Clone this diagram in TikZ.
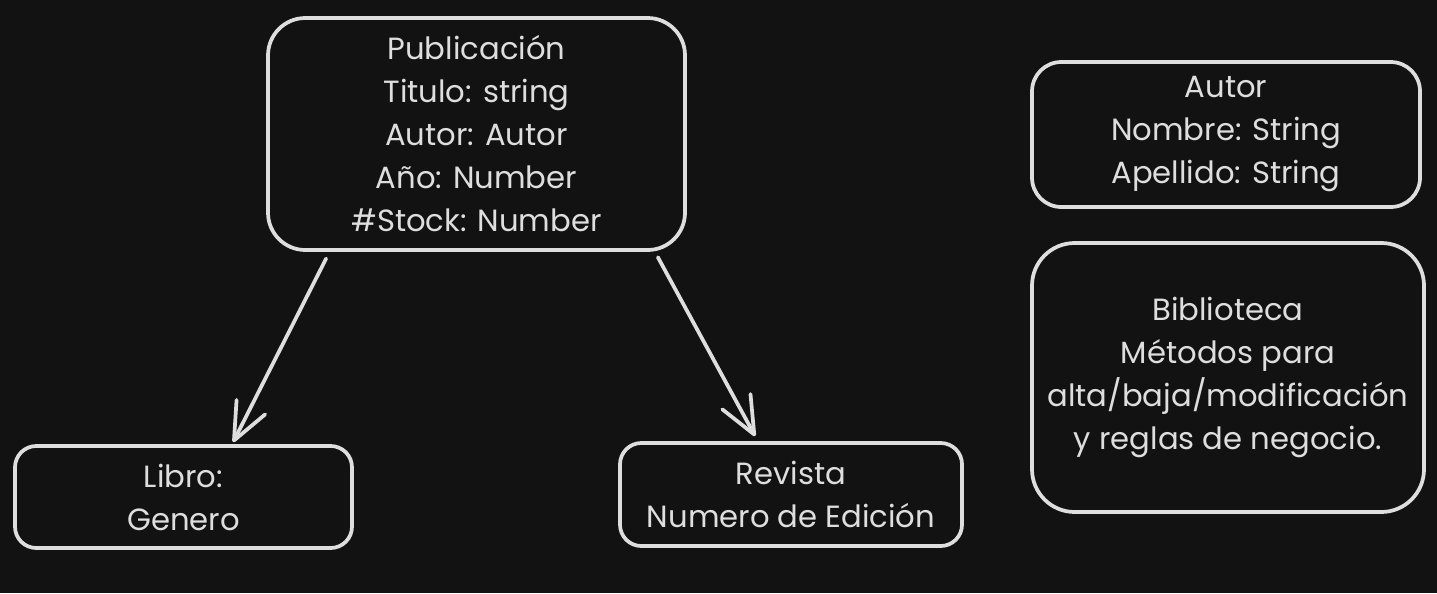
\documentclass[tikz,border=0pt]{standalone}
\usepackage{fontspec}
\setmainfont{Poppins}
\usepackage{tikz}
\usetikzlibrary{arrows.meta}

\definecolor{bgdark}{RGB}{18,18,18}
\definecolor{chalk}{RGB}{222,222,222}

\tikzset{
  umlbox/.style={draw=chalk, line width=2.8pt, rounded corners=28pt, fill=bgdark,
    text=chalk, align=center, inner sep=0pt, font=\fontsize{23}{32.25}\selectfont},
  herencia/.style={draw=chalk, line width=2.8pt, line cap=round,
    -{Straight Barb[length=28pt, width=24pt, line width=2.8pt, round]}}
}

\begin{document}
\begin{tikzpicture}[x=0.75pt,y=0.75pt,yscale=-1,xscale=1]
\useasboundingbox[fill=bgdark] (0,0) rectangle (1437,593);

% Rounded Rect
\node (pub) [umlbox, minimum width=312.75pt, minimum height=174pt] at (476.5,134)
  {Publicación\\Titulo: string\\Autor: Autor\\Año: Number\\\#Stock: Number};
% Rounded Rect
\node (autor) [umlbox, rounded corners=22pt, minimum width=291pt, minimum height=108.75pt] at (1226,134.5)
  {Autor\\Nombre: String\\Apellido: String};
% Rounded Rect
\node (biblio) [umlbox, rounded corners=32pt, minimum width=294pt, minimum height=201.75pt] at (1228,377.5)
  {Biblioteca\\Métodos para\\alta/baja/modificación\\y reglas de negocio.};
% Rounded Rect
\node (libro) [umlbox, rounded corners=16pt, minimum width=252.75pt, minimum height=76.5pt] at (183.5,497)
  {Libro:\\Genero};
% Rounded Rect
\node (revista) [umlbox, rounded corners=16pt, minimum width=256.5pt, minimum height=77.25pt] at (791,494.5)
  {Revista\\Numero de Edición};

%Straight Lines
\draw [herencia] ([xshift=45pt,yshift=5pt]pub.south west) -- ([xshift=165pt,yshift=-1.5pt]libro.north west);
%Straight Lines
\draw [herencia] ([xshift=-21.75pt,yshift=4pt]pub.south east) -- ([xshift=102.75pt,yshift=-3.75pt]revista.north west);

\end{tikzpicture}
\end{document}
